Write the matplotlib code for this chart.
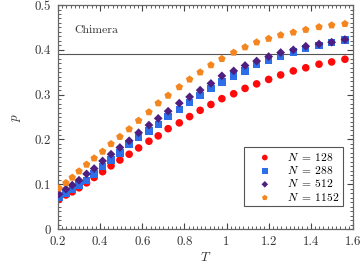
import numpy as np
import matplotlib
matplotlib.use('Agg')
import matplotlib.pyplot as plt
from matplotlib.ticker import MultipleLocator

plt.rcParams['font.family'] = 'cmr10'
plt.rcParams['mathtext.fontset'] = 'cm'
plt.rcParams['axes.formatter.use_mathtext'] = True

# temperatures
T = [0.205, 0.238, 0.268, 0.30, 0.336, 0.372, 0.412, 0.452, 0.494, 0.538,
     0.583, 0.632, 0.676, 0.723, 0.776, 0.825, 0.875, 0.926, 0.978, 1.034,
     1.088, 1.143, 1.20, 1.257, 1.317, 1.376, 1.439, 1.499, 1.562]

p_128 = [0.066, 0.076, 0.083, 0.092, 0.103, 0.115, 0.128, 0.141, 0.154, 0.167,
         0.181, 0.196, 0.208, 0.224, 0.237, 0.251, 0.265, 0.278, 0.291, 0.302,
         0.314, 0.324, 0.334, 0.344, 0.353, 0.360, 0.368, 0.373, 0.379]
p_288 = [0.071, 0.080, 0.089, 0.098, 0.109, 0.123, 0.139, 0.154, 0.170, 0.188,
         0.205, 0.219, 0.234, 0.251, 0.267, 0.283, 0.298, 0.313, 0.328, 0.342,
         0.353, 0.367, 0.377, 0.386, 0.395, 0.403, 0.410, 0.417, 0.422]
p_512 = [0.078, 0.089, 0.098, 0.109, 0.123, 0.135, 0.152, 0.167, 0.182, 0.197,
         0.215, 0.232, 0.247, 0.263, 0.281, 0.295, 0.310, 0.325, 0.342, 0.353,
         0.365, 0.375, 0.385, 0.394, 0.400, 0.408, 0.413, 0.417, 0.423]
p_1152 = [0.091, 0.103, 0.115, 0.129, 0.144, 0.158, 0.173, 0.190, 0.206, 0.223,
          0.242, 0.261, 0.281, 0.298, 0.317, 0.334, 0.350, 0.366, 0.380, 0.394,
          0.406, 0.417, 0.425, 0.433, 0.439, 0.445, 0.451, 0.455, 0.458]

p_chimera = 0.39

fig = plt.figure(figsize=(3.62, 2.66), dpi=100)
ax = fig.add_axes([0.160, 0.139, 0.815, 0.842])

ax.axhline(p_chimera, color='#555555', lw=0.8, zorder=1)

ax.scatter(T, p_128, s=30, marker='o', color='#ff0a0a', edgecolors='none', label=r'$N\;=\;128$', zorder=2)
ax.scatter(T, p_288, s=28, marker='s', color='#2c6fe8', edgecolors='none', label=r'$N\;=\;288$', zorder=3)
ax.scatter(T, p_512, s=20, marker='D', color='#4e1f80', edgecolors='none', label=r'$N\;=\;512$', zorder=4)
ax.scatter(T, p_1152, s=32, marker='p', color='#f5861f', edgecolors='none', label=r'$N\;=\;1152\quad$', zorder=5)

ax.set_xlim(0.2, 1.6)
ax.set_ylim(0, 0.5)
ax.xaxis.set_major_locator(MultipleLocator(0.2))
ax.xaxis.set_minor_locator(MultipleLocator(0.02))
ax.yaxis.set_major_locator(MultipleLocator(0.1))
ax.yaxis.set_minor_locator(MultipleLocator(0.01))
ax.xaxis.set_major_formatter(plt.FuncFormatter(lambda v, _: ('%g' % round(v, 2))))
ax.yaxis.set_major_formatter(plt.FuncFormatter(lambda v, _: ('%g' % round(v, 2))))
ax.tick_params(which='both', direction='in', top=True, right=True, color='#444444',
               labelsize=9.3, labelcolor='#333333')
ax.tick_params(which='major', length=4, width=0.8, pad=5)
ax.tick_params(which='minor', length=2, width=0.6)
for s in ax.spines.values():
    s.set_color('#666666')
    s.set_linewidth(0.9)

ax.set_xlabel('$T$', fontsize=9.5, color='#333333', labelpad=2)
ax.set_ylabel('$p$', fontsize=9.5, color='#333333', labelpad=8)

ax.text(0.055, 0.875, 'Chimera', transform=ax.transAxes, fontsize=8.5, color='#333333')

leg = ax.legend(loc='lower right', bbox_to_anchor=(0.966, 0.103), borderaxespad=0, fontsize=8.3,
                fancybox=False, framealpha=1, edgecolor='#555555', handletextpad=0.45,
                borderpad=0.28, labelspacing=0.12, handlelength=3.0, markerscale=0.75)
leg.get_frame().set_linewidth(0.8)

fig.savefig('out.png', dpi=100)
